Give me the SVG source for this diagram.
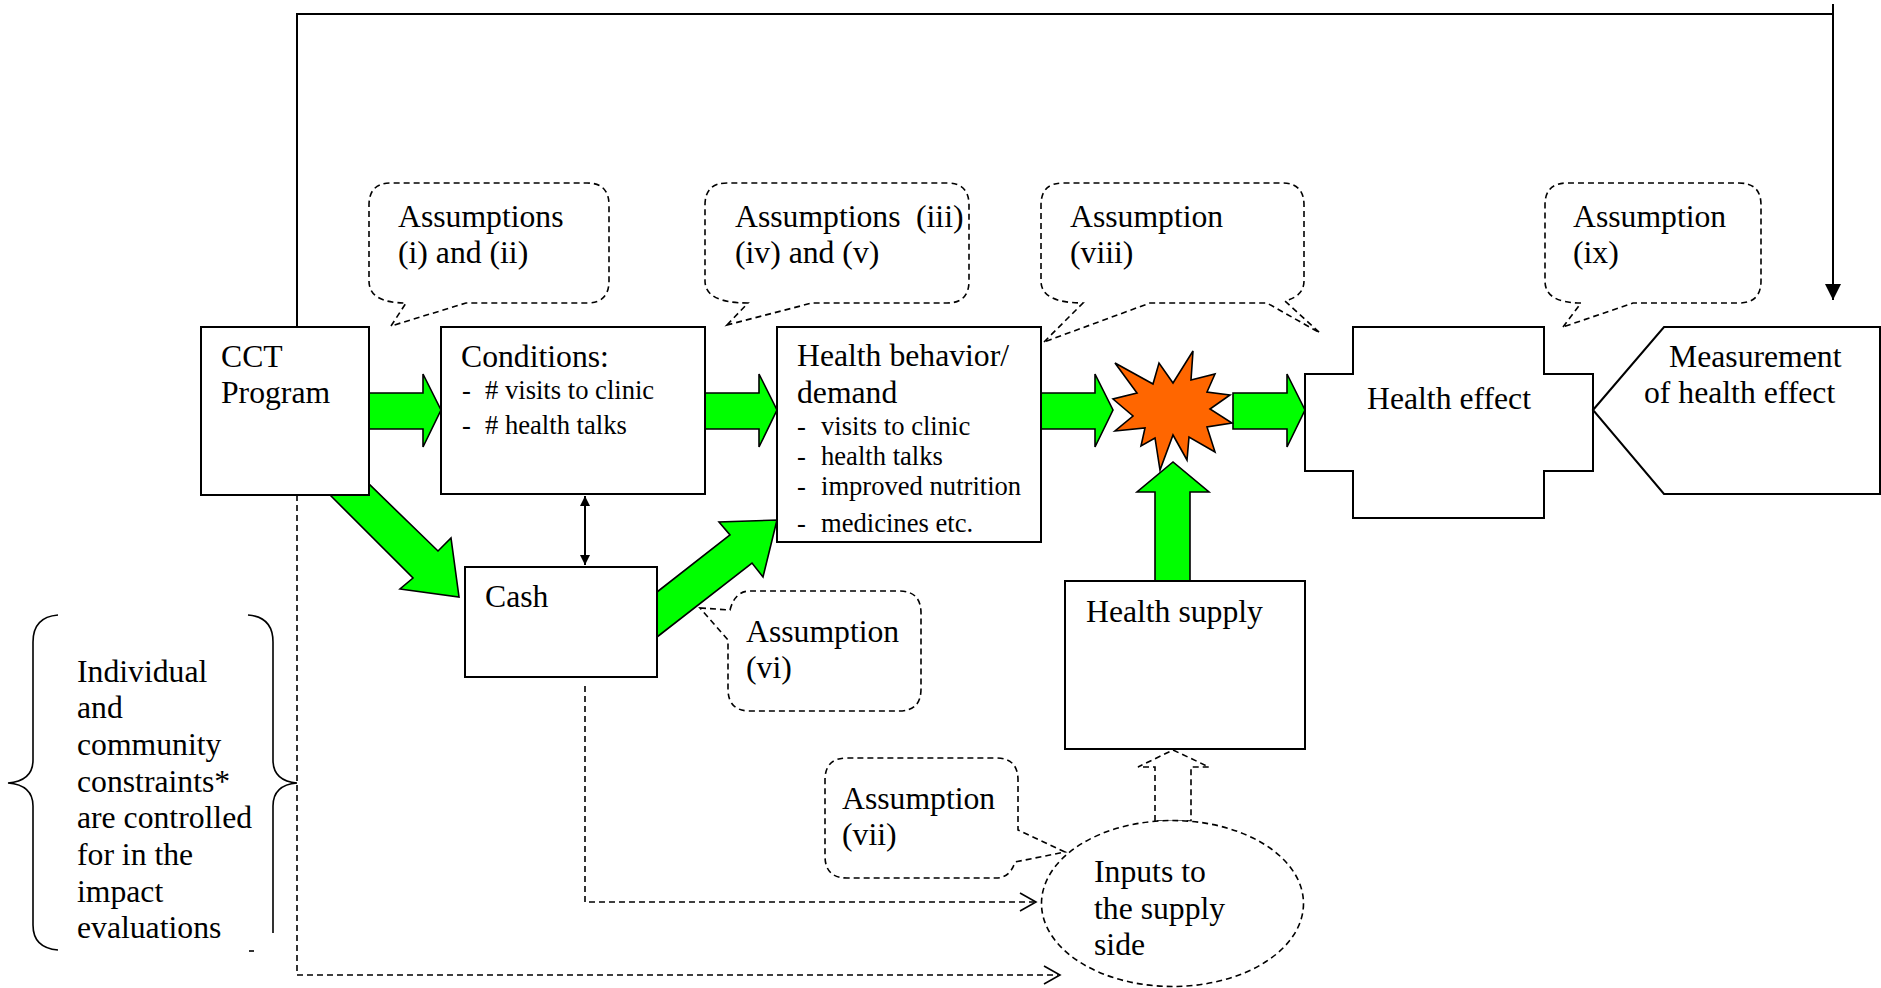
<svg xmlns="http://www.w3.org/2000/svg" width="1881" height="988" viewBox="0 0 1881 988">
<style>
.t{font-family:"Liberation Serif","Times New Roman",serif;font-size:31.7px;fill:#000}
.s{font-family:"Liberation Serif","Times New Roman",serif;font-size:26.6px;fill:#000}
.box{fill:#fff;stroke:#000;stroke-width:2}
.call{fill:#fff;stroke:#000;stroke-width:1.6;stroke-dasharray:6 4}
.dash{fill:none;stroke:#000;stroke-width:1.6;stroke-dasharray:6 4}
.solid{fill:none;stroke:#000;stroke-width:2}
.green{fill:#00FF00;stroke:#000;stroke-width:1.6;stroke-linejoin:miter}
.open{fill:none;stroke:#000;stroke-width:1.6}
</style>
<defs>
<marker id="ah" viewBox="0 0 10 10" refX="10" refY="5" markerWidth="10" markerHeight="10" markerUnits="userSpaceOnUse" orient="auto-start-reverse">
<path d="M0,0 L10,5 L0,10 Z" fill="#000"/>
</marker>
<marker id="ah2" viewBox="0 0 16 16" refX="16" refY="8" markerWidth="16" markerHeight="16" markerUnits="userSpaceOnUse" orient="auto">
<path d="M0,0 L16,8 L0,16 Z" fill="#000"/>
</marker>
</defs>
<rect width="1881" height="988" fill="#fff"/>

<g id="connectors">
<path class="solid" d="M297,327 L297,14 L1833,14"/>
<path class="solid" d="M1833,4 L1833,300" marker-end="url(#ah2)"/>
<path class="dash" d="M297,495 L297,975 L1058,975"/>
<path class="open" d="M1044,966 L1060,975 L1044,984"/>
<path class="dash" d="M585,686 L585,902 L1034,902"/>
<path class="open" d="M1020,893 L1036,902 L1020,911"/>
<path class="solid" d="M585,496 L585,565" stroke-width="1.6" marker-start="url(#ah)" marker-end="url(#ah)"/>
<polygon class="green" points="369,393 423,393 423,374 441,410 423,447 423,429 369,429"/>
<polygon class="green" points="705,393 759,393 759,374 777,410 759,447 759,429 705,429"/>
<polygon class="green" points="1041,393 1095,393 1095,374 1113,410 1095,447 1095,429 1041,429"/>
<polygon class="green" points="1233,393 1287,393 1287,374 1305,410 1287,447 1287,429 1233,429"/>
<polygon class="green" points="330,495 370,485 438,551 451,538 459,597 400,589 413,578"/>
<polygon class="green" points="657,637 657,592 730,535 719,522 777,520 763,577 752,563"/>
<polygon class="green" points="1155,581 1155,492 1137,492 1173,462 1209,492 1190,492 1190,581"/>
<path class="dash" d="M1155,821 L1155,767 L1138,767 L1173,750 L1209,767 L1191,767 L1191,821 Z" fill="#fff"/>
</g>

<g id="star">
<polygon points="1115,363 1153,384 1159,363 1173,383 1193,351 1191,380 1215,374 1207,392 1230,395 1210,409 1232,423 1207,427 1215,452 1189,437 1187,460 1173,435 1160,470 1155,438 1141,446 1145,428 1115,431 1133,416 1113,399 1137,393" fill="#FF6600" stroke="#000" stroke-width="1.6"/>
</g>

<g id="cct">
<rect class="box" x="201" y="327" width="168" height="168"/>
<text class="t" x="221" y="367">CCT</text>
<text class="t" x="221" y="403">Program</text>
</g>

<g id="conditions">
<rect class="box" x="441" y="327" width="264" height="167"/>
<text class="t" x="461" y="367">Conditions:</text>
<text class="s" x="462" y="399">-</text><text class="s" x="485" y="399"># visits to clinic</text>
<text class="s" x="462" y="434">-</text><text class="s" x="485" y="434"># health talks</text>
</g>

<g id="health-behavior">
<rect class="box" x="777" y="327" width="264" height="215"/>
<text class="t" x="797" y="366">Health behavior/</text>
<text class="t" x="797" y="403">demand</text>
<text class="s" x="797" y="435">-</text><text class="s" x="821" y="435">visits to clinic</text>
<text class="s" x="797" y="465">-</text><text class="s" x="821" y="465">health talks</text>
<text class="s" x="797" y="495">-</text><text class="s" x="821" y="495">improved nutrition</text>
<text class="s" x="797" y="532">-</text><text class="s" x="821" y="532">medicines etc.</text>
</g>

<g id="cash">
<rect class="box" x="465" y="567" width="192" height="110"/>
<text class="t" x="485" y="607">Cash</text>
</g>

<g id="health-supply">
<rect class="box" x="1065" y="581" width="240" height="168"/>
<text class="t" x="1086" y="622">Health supply</text>
</g>

<g id="inputs">
<ellipse class="call" cx="1172.5" cy="903.5" rx="131" ry="83"/>
<text class="t" x="1094" y="882">Inputs to</text>
<text class="t" x="1094" y="919">the supply</text>
<text class="t" x="1094" y="955">side</text>
</g>

<g id="health-effect">
<polygon class="box" points="1353,327 1544,327 1544,374 1593,374 1593,471 1544,471 1544,518 1353,518 1353,471 1305,471 1305,374 1353,374"/>
<text class="t" x="1449" y="409" text-anchor="middle">Health effect</text>
</g>

<g id="measurement">
<polygon class="box" points="1593,410 1664,327 1880,327 1880,494 1664,494"/>
<text class="t" x="1669" y="367">Measurement</text>
<text class="t" x="1644" y="403">of health effect</text>
</g>

<g id="assumption-i-ii">
<path class="call" d="M391,326 L406,303 Q369,303 369,281 L369,205 Q369,183 391,183 L587,183 Q609,183 609,205 L609,281 Q609,303 587,303 L466,303 Z"/>
<text class="t" x="398" y="227">Assumptions</text>
<text class="t" x="398" y="263">(i) and (ii)</text>
</g>

<g id="assumption-iii-v">
<path class="call" d="M727,325 L748,303 Q705,303 705,281 L705,205 Q705,183 727,183 L947,183 Q969,183 969,205 L969,281 Q969,303 947,303 L812,303 Z"/>
<text class="t" x="735" y="227">Assumptions</text>
<text class="t" x="916" y="227">(iii)</text>
<text class="t" x="735" y="263">(iv) and (v)</text>
</g>

<g id="assumption-viii">
<path class="call" d="M1044,342 L1083,303 Q1041,303 1041,281 L1041,205 Q1041,183 1063,183 L1282,183 Q1304,183 1304,205 L1304,281 Q1304,296 1285,301 L1320,333 L1267,303 L1150,303 Z"/>
<text class="t" x="1070" y="227">Assumption</text>
<text class="t" x="1070" y="263">(viii)</text>
</g>

<g id="assumption-ix">
<path class="call" d="M1563,327 L1581,303 Q1545,303 1545,281 L1545,205 Q1545,183 1567,183 L1739,183 Q1761,183 1761,205 L1761,281 Q1761,303 1739,303 L1633,303 Z"/>
<text class="t" x="1573" y="227">Assumption</text>
<text class="t" x="1573" y="263">(ix)</text>
</g>

<g id="assumption-vi">
<path class="call" d="M700,608 L730,610 Q735,591 750,591 L899,591 Q921,591 921,613 L921,689 Q921,711 899,711 L750,711 Q728,711 728,689 L728,640 Z"/>
<text class="t" x="746" y="642">Assumption</text>
<text class="t" x="746" y="678">(vi)</text>
</g>

<g id="assumption-vii">
<path class="call" d="M1065,852 L1018,830 L1018,780 Q1018,758 996,758 L847,758 Q825,758 825,780 L825,856 Q825,878 847,878 L996,878 Q1010,878 1015,862 Z"/>
<text class="t" x="842" y="809">Assumption</text>
<text class="t" x="842" y="845">(vii)</text>
</g>

<g id="constraints">
<path class="open" stroke-width="2" d="M58,615 Q33,617 33,642 L33,760 Q33,781 8,783 Q33,785 33,806 L33,925 Q33,948 58,950"/>
<path class="open" stroke-width="2" d="M248,615 Q273,617 273,642 L273,760 Q273,781 297,783 Q273,785 273,806 L273,933"/>
<path class="open" stroke-width="2" d="M249,951 L254,951"/>
<text class="t" x="77" y="682">Individual</text>
<text class="t" x="77" y="718">and</text>
<text class="t" x="77" y="755">community</text>
<text class="t" x="77" y="792">constraints*</text>
<text class="t" x="77" y="828">are controlled</text>
<text class="t" x="77" y="865">for in the</text>
<text class="t" x="77" y="902">impact</text>
<text class="t" x="77" y="938">evaluations</text>
</g>
</svg>
